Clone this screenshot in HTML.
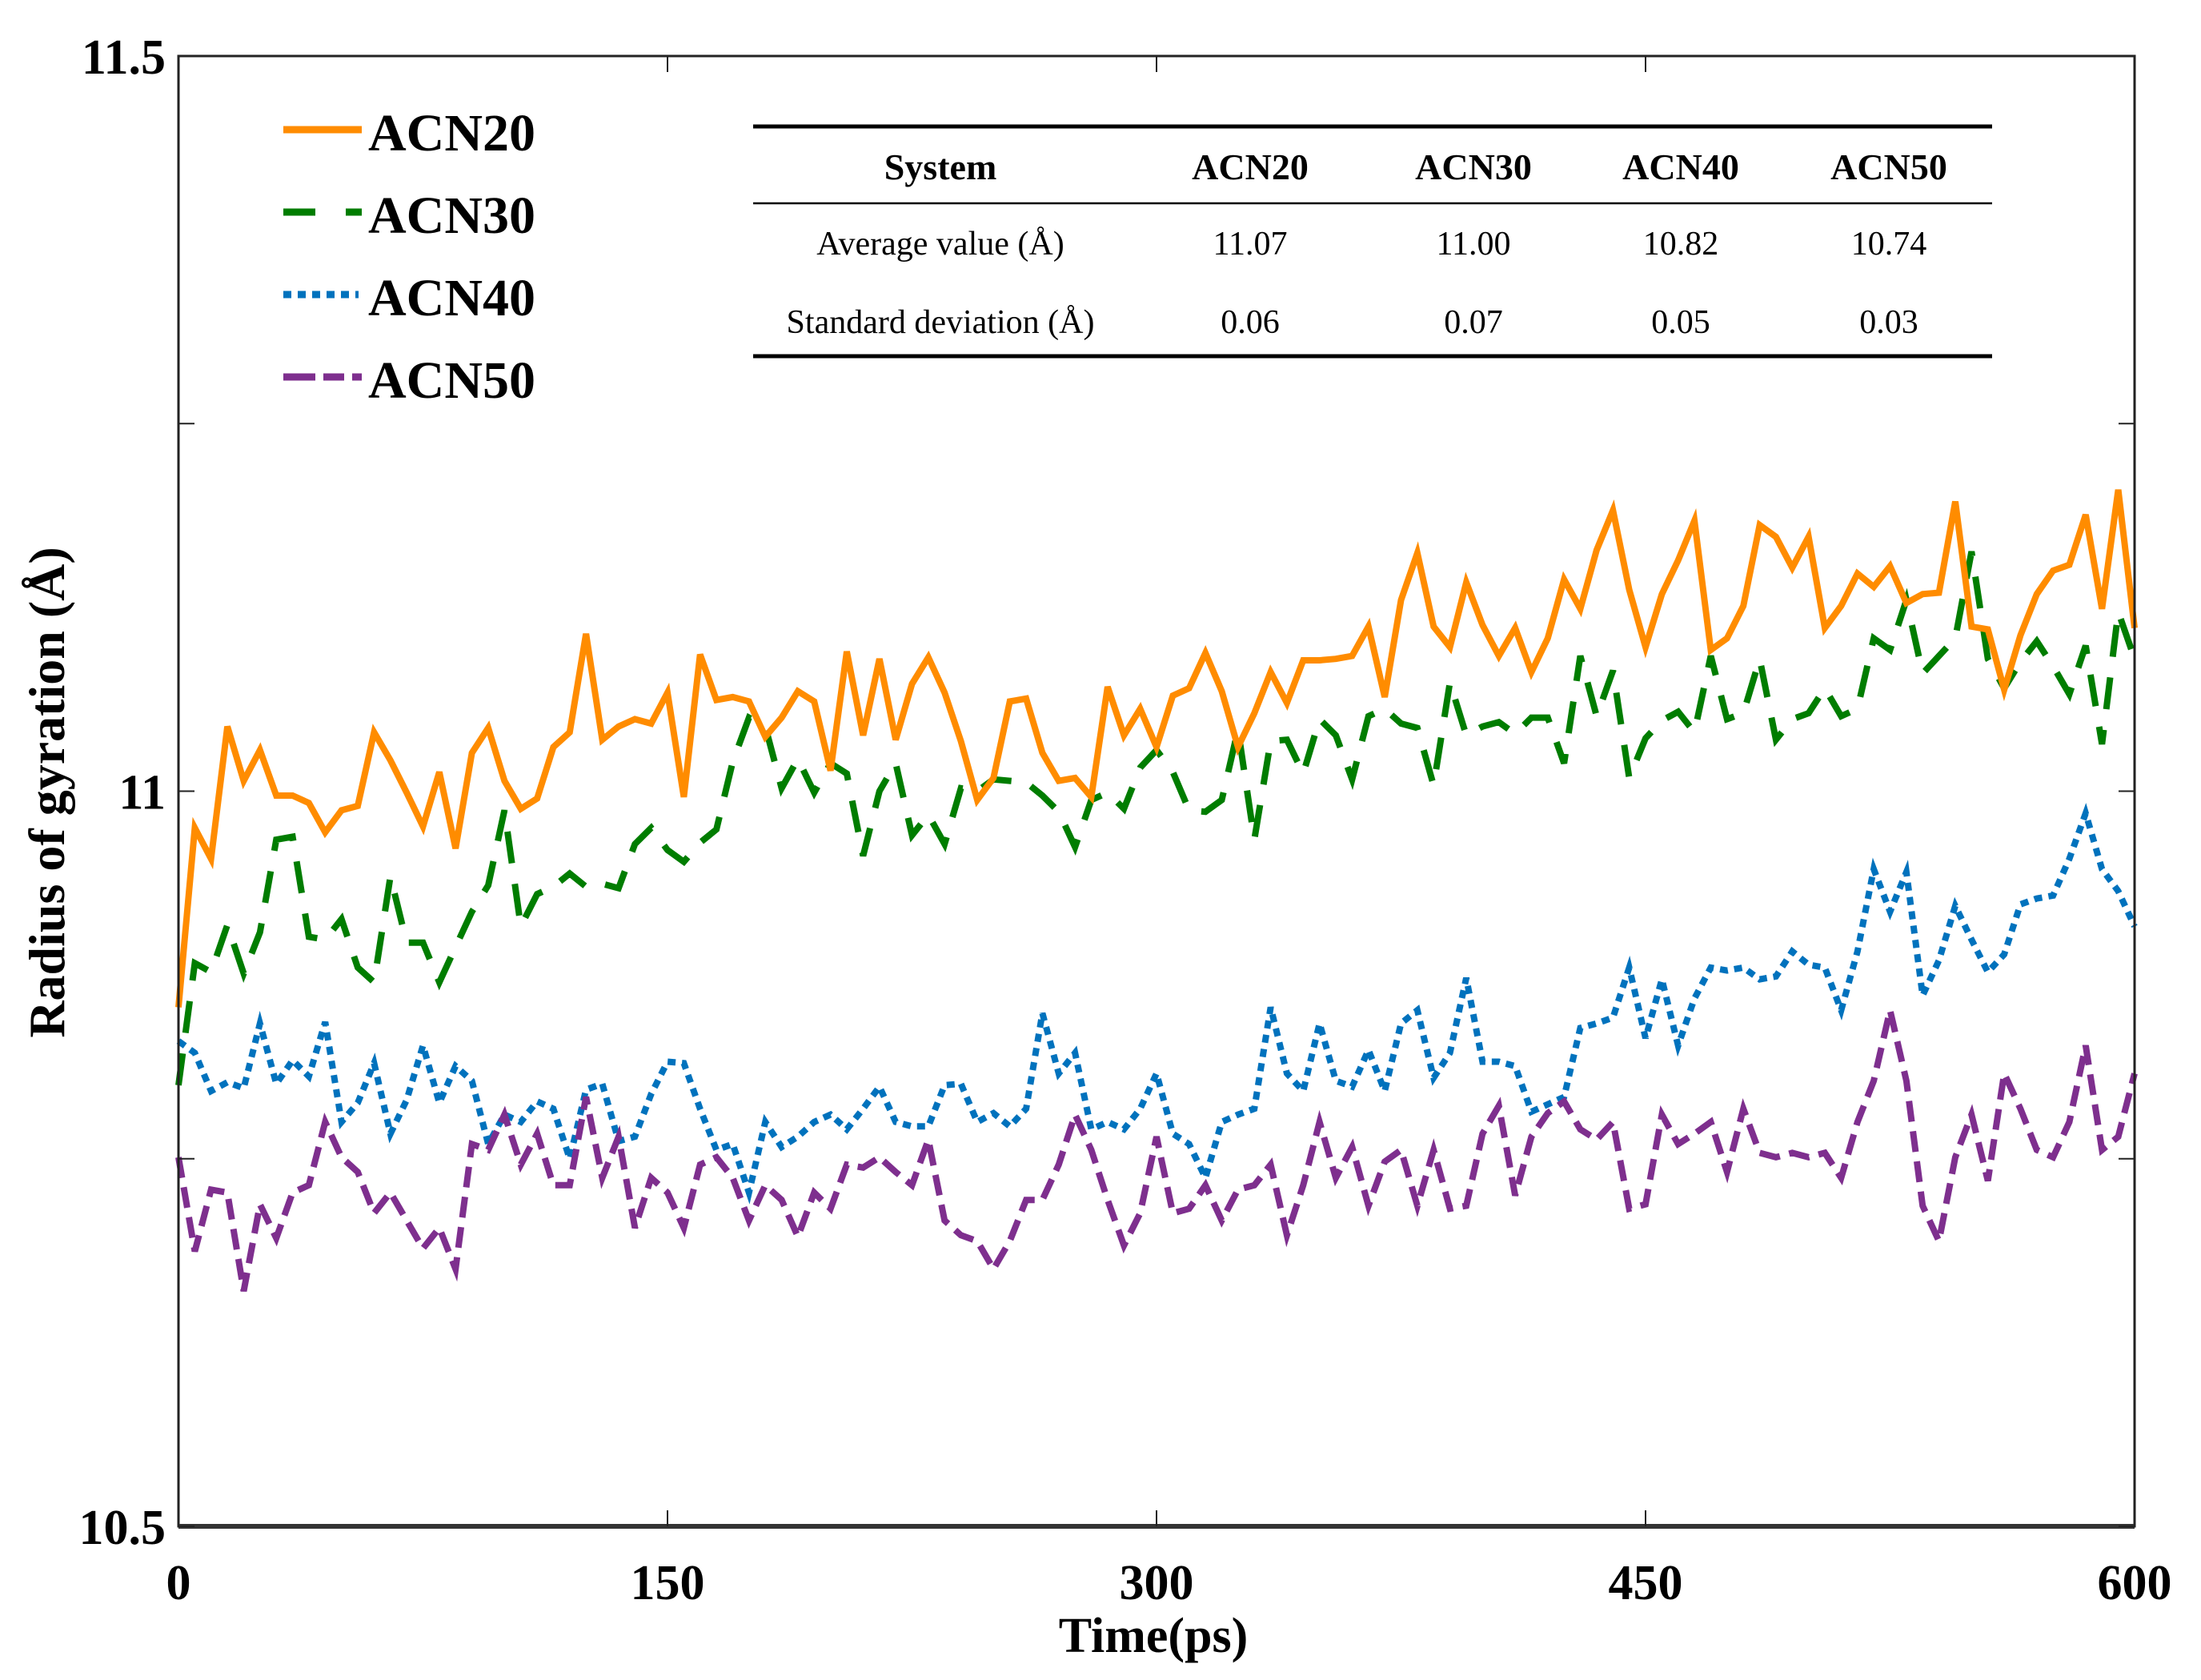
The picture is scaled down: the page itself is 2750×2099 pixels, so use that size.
<!DOCTYPE html>
<html><head><meta charset="utf-8"><style>
html,body{margin:0;padding:0;background:#fff;}
svg{display:block;}
text{font-family:"Liberation Serif",serif;}
</style></head><body>
<svg id="chart" width="2750" height="2099" viewBox="0 0 2750 2099" xmlns="http://www.w3.org/2000/svg">
<rect width="2750" height="2099" fill="#fff"/>
<g id="series"></g>
<g id="axes"></g>
<g>
  <line x1="354" y1="162" x2="452" y2="162" stroke="#ff8c00" stroke-width="9"/>
  <text x="460" y="188" font-size="66" font-weight="bold">ACN20</text>
  <line x1="354" y1="265" x2="452" y2="265" stroke="#007d00" stroke-width="9" stroke-dasharray="40,38"/>
  <text x="460" y="291" font-size="66" font-weight="bold">ACN30</text>
  <line x1="354" y1="368" x2="448" y2="368" stroke="#0072bd" stroke-width="9" stroke-dasharray="10,8"/>
  <text x="460" y="394" font-size="66" font-weight="bold">ACN40</text>
  <line x1="354" y1="471" x2="452" y2="471" stroke="#7e2f8e" stroke-width="9" stroke-dasharray="40,10,26,10"/>
  <text x="460" y="497" font-size="66" font-weight="bold">ACN50</text>
</g>
<g>
  <line x1="941" y1="158" x2="2489" y2="158" stroke="#000" stroke-width="5"/>
  <line x1="941" y1="254" x2="2489" y2="254" stroke="#000" stroke-width="2.5"/>
  <line x1="941" y1="445" x2="2489" y2="445" stroke="#000" stroke-width="5"/>
  <g font-size="46" font-weight="bold" text-anchor="middle">
    <text x="1175" y="224">System</text>
    <text x="1562" y="224">ACN20</text>
    <text x="1841" y="224">ACN30</text>
    <text x="2100" y="224">ACN40</text>
    <text x="2360" y="224">ACN50</text>
  </g>
  <g font-size="42" text-anchor="middle">
    <text x="1175" y="318">Average value (Å)</text>
    <text x="1562" y="318">11.07</text>
    <text x="1841" y="318">11.00</text>
    <text x="2100" y="318">10.82</text>
    <text x="2360" y="318">10.74</text>
    <text x="1175" y="416">Standard deviation (Å)</text>
    <text x="1562" y="416">0.06</text>
    <text x="1841" y="416">0.07</text>
    <text x="2100" y="416">0.05</text>
    <text x="2360" y="416">0.03</text>
  </g>
</g>
<text x="1441" y="2064" font-size="62" font-weight="bold" text-anchor="middle">Time(ps)</text>
<text transform="translate(80,990) rotate(-90)" font-size="64" font-weight="bold" text-anchor="middle">Radius of gyration (Å)</text>
</svg>
<script>
const timeStep = 5;
const acn20 = [10.853,10.975,10.954,11.044,11.007,11.028,10.997,10.997,10.992,10.972,
10.987,10.990,11.040,11.021,10.999,10.976,11.013,10.961,11.026,11.043,
11.007,10.988,10.995,11.030,11.040,11.107,11.035,11.044,11.049,11.046,
11.067,10.996,11.093,11.062,11.064,11.061,11.037,11.050,11.068,11.061,
11.014,11.095,11.038,11.090,11.035,11.073,11.091,11.067,11.034,10.994,
11.009,11.061,11.063,11.026,11.007,11.009,10.996,11.071,11.038,11.056,
11.030,11.065,11.070,11.094,11.068,11.030,11.053,11.081,11.060,11.089,
11.089,11.090,11.092,11.112,11.064,11.130,11.162,11.112,11.098,11.142,
11.113,11.092,11.111,11.081,11.104,11.144,11.124,11.164,11.191,11.137,
11.098,11.134,11.157,11.184,11.096,11.104,11.126,11.181,11.173,11.152,
11.173,11.111,11.126,11.148,11.139,11.153,11.128,11.134,11.135,11.197,
11.112,11.110,11.069,11.106,11.134,11.150,11.154,11.188,11.124,11.205,
11.111];
const acn30 = [10.800,10.883,10.877,10.909,10.876,10.904,10.967,10.969,10.901,10.899,
10.913,10.880,10.870,10.942,10.897,10.897,10.870,10.894,10.918,10.936,
10.987,10.908,10.930,10.935,10.944,10.935,10.937,10.934,10.964,10.975,
10.960,10.952,10.965,10.974,11.020,11.050,11.044,11.002,11.022,10.999,
11.019,11.012,10.956,11.000,11.019,10.970,10.984,10.964,11.002,11.000,
11.008,11.007,11.006,10.997,10.986,10.962,10.994,10.999,10.988,11.016,
11.028,11.013,10.987,10.986,10.994,11.042,10.967,11.034,11.035,11.012,
11.049,11.038,11.008,11.051,11.056,11.046,11.043,11.004,11.074,11.038,
11.044,11.047,11.039,11.050,11.050,11.019,11.092,11.051,11.082,11.009,
11.036,11.048,11.054,11.040,11.092,11.049,11.053,11.090,11.035,11.049,
11.053,11.070,11.051,11.056,11.104,11.096,11.130,11.080,11.092,11.104,
11.163,11.090,11.070,11.088,11.102,11.085,11.066,11.099,11.032,11.122,
11.090];
const acn40 = [10.830,10.822,10.796,10.802,10.798,10.842,10.801,10.817,10.806,10.843,
10.775,10.788,10.815,10.767,10.790,10.827,10.788,10.813,10.803,10.760,
10.780,10.775,10.789,10.784,10.750,10.797,10.801,10.762,10.765,10.794,
10.816,10.815,10.784,10.756,10.760,10.727,10.775,10.758,10.765,10.775,
10.780,10.770,10.784,10.799,10.775,10.772,10.772,10.800,10.801,10.775,
10.781,10.772,10.784,10.849,10.808,10.822,10.770,10.775,10.770,10.784,
10.808,10.767,10.760,10.737,10.775,10.780,10.784,10.853,10.808,10.796,
10.842,10.803,10.799,10.824,10.796,10.842,10.851,10.805,10.822,10.873,
10.816,10.816,10.813,10.782,10.787,10.792,10.839,10.842,10.846,10.880,
10.832,10.872,10.827,10.859,10.880,10.878,10.880,10.872,10.874,10.891,
10.882,10.880,10.851,10.891,10.947,10.918,10.945,10.861,10.885,10.922,
10.899,10.877,10.889,10.923,10.927,10.929,10.954,10.985,10.947,10.932,
10.908];
const acn50 = [10.751,10.687,10.729,10.727,10.660,10.719,10.696,10.727,10.732,10.775,
10.751,10.741,10.713,10.727,10.708,10.689,10.703,10.675,10.760,10.756,
10.780,10.746,10.767,10.732,10.732,10.792,10.737,10.765,10.703,10.737,
10.727,10.703,10.746,10.751,10.737,10.708,10.732,10.722,10.697,10.727,
10.716,10.746,10.744,10.751,10.741,10.732,10.763,10.708,10.698,10.694,
10.675,10.694,10.722,10.722,10.746,10.780,10.756,10.722,10.691,10.713,
10.765,10.713,10.716,10.732,10.708,10.729,10.732,10.746,10.698,10.732,
10.775,10.737,10.758,10.718,10.748,10.756,10.718,10.756,10.716,10.718,
10.767,10.786,10.725,10.765,10.781,10.789,10.770,10.763,10.775,10.716,
10.719,10.780,10.760,10.767,10.775,10.741,10.784,10.754,10.751,10.754,
10.751,10.754,10.737,10.775,10.803,10.851,10.803,10.718,10.694,10.751,
10.780,10.735,10.808,10.784,10.756,10.751,10.775,10.827,10.756,10.765,
10.808];
const xTicks = [0,150,300,450,600];
const yTicks = [10.5,11,11.5];
const yMinorTicks = [10.75,11.25];

const PL=223, PR=2667, PT=70, PB=1907;
const X0=0, X1=600, Y0=10.5, Y1=11.5;
function xs(t){return PL+(t-X0)/(X1-X0)*(PR-PL);}
function ys(v){return PB-(v-Y0)/(Y1-Y0)*(PB-PT);}
const NS='http://www.w3.org/2000/svg';
function mk(tag,attrs,parent){const e=document.createElementNS(NS,tag);for(const k in attrs)e.setAttribute(k,attrs[k]);parent.appendChild(e);return e;}

const sg=document.getElementById('series');
const defs=[
 {d:acn40,c:'#0072bd',dash:'10,8',n:'line-acn40'},
 {d:acn50,c:'#7e2f8e',dash:'26,12',n:'line-acn50'},
 {d:acn30,c:'#007d00',dash:'40,26',n:'line-acn30'},
 {d:acn20,c:'#ff8c00',dash:'',n:'line-acn20'}
];
defs.forEach(s=>{
  const pts=s.d.map((v,i)=>xs(i*timeStep).toFixed(1)+','+ys(v).toFixed(1)).join(' ');
  const p=mk('polyline',{points:pts,fill:'none',stroke:s.c,'stroke-width':8,'stroke-linejoin':'miter','stroke-dasharray':s.dash||'none'},sg);
  
  
});

const ax=document.getElementById('axes');
const frame=mk('rect',{x:PL,y:PT,width:PR-PL,height:PB-PT,fill:'none',stroke:'#222','stroke-width':3},ax);


const xb=mk('line',{x1:PL,y1:PB,x2:PR,y2:PB,stroke:'#333','stroke-width':6},ax);


xTicks.forEach(t=>{
  const x=xs(t);
  const a=mk('line',{x1:x,y1:PB,x2:x,y2:PB-20,stroke:'#222','stroke-width':2},ax);
  
  
  const b=mk('line',{x1:x,y1:PT,x2:x,y2:PT+20,stroke:'#222','stroke-width':2},ax);
  
  
  const l=mk('text',{x:x,y:1998,'font-size':62,'font-weight':'bold','text-anchor':'middle'},ax);
  l.textContent=t;
  
  
});
yTicks.concat(yMinorTicks).forEach(v=>{
  const y=ys(v);
  const a=mk('line',{x1:PL,y1:y,x2:PL+20,y2:y,stroke:'#222','stroke-width':2},ax);
  
  
  const b=mk('line',{x1:PR,y1:y,x2:PR-20,y2:y,stroke:'#222','stroke-width':2},ax);
  
  
});
yTicks.forEach(v=>{
  const l=mk('text',{x:207,y:ys(v)+22,'font-size':62,'font-weight':'bold','text-anchor':'end'},ax);
  l.textContent=String(v);
  
  
});
</script>
</body></html>
